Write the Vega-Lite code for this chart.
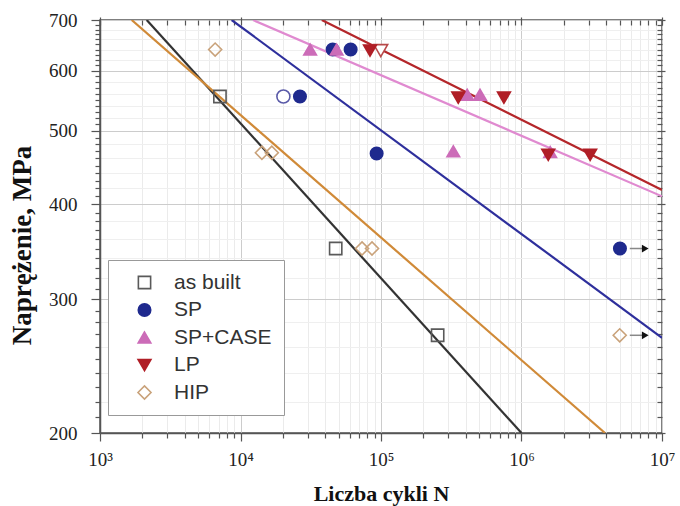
{
  "$schema": "https://vega.github.io/schema/vega-lite/v6.json",
  "width": 562,
  "height": 413,
  "autosize": "none",
  "padding": {"left": 100, "top": 20, "right": 18, "bottom": 73},
  "background": "white",
  "config": {
    "view": {"stroke": "#555555", "strokeWidth": 1.5},
    "font": "Liberation Serif"
  },
  "datasets": {
    "pts": [
      {"series": "as built", "N": 7140, "S": 555},
      {"series": "as built", "N": 47600, "S": 350},
      {"series": "as built", "N": 253000, "S": 269},
      {"series": "SP", "N": 26500, "S": 555},
      {"series": "SP", "N": 45300, "S": 640},
      {"series": "SP", "N": 60800, "S": 640},
      {"series": "SP", "N": 93100, "S": 467},
      {"series": "SP", "N": 5020000, "S": 350},
      {"series": "SP+CASE", "N": 31300, "S": 640},
      {"series": "SP+CASE", "N": 48300, "S": 640},
      {"series": "SP+CASE", "N": 327000, "S": 470},
      {"series": "SP+CASE", "N": 411000, "S": 558},
      {"series": "SP+CASE", "N": 507000, "S": 558},
      {"series": "SP+CASE", "N": 1600000, "S": 469},
      {"series": "LP", "N": 83500, "S": 638},
      {"series": "LP", "N": 355000, "S": 553},
      {"series": "LP", "N": 750000, "S": 553},
      {"series": "LP", "N": 1550000, "S": 465},
      {"series": "LP", "N": 3080000, "S": 465},
      {"series": "HIP", "N": 6600, "S": 640},
      {"series": "HIP", "N": 14200, "S": 468},
      {"series": "HIP", "N": 16700, "S": 468},
      {"series": "HIP", "N": 73300, "S": 350},
      {"series": "HIP", "N": 86300, "S": 350},
      {"series": "HIP", "N": 5000000, "S": 269}
    ],
    "openSP": [{"N": 20200, "S": 555}],
    "openLP": [{"N": 99600, "S": 638}],
    "fits": [
      {"fit": "as built", "N": 2150, "S": 700},
      {"fit": "as built", "N": 1000000, "S": 200},
      {"fit": "HIP", "N": 1681, "S": 700},
      {"fit": "HIP", "N": 3930000, "S": 200},
      {"fit": "SP", "N": 8650, "S": 700},
      {"fit": "SP", "N": 10000000, "S": 267},
      {"fit": "SP+CASE", "N": 12270, "S": 700},
      {"fit": "SP+CASE", "N": 10000000, "S": 410},
      {"fit": "LP", "N": 37900, "S": 700},
      {"fit": "LP", "N": 10000000, "S": 418}
    ],
    "arrows": [
      {"N": 5900000, "N2": 7400000, "S": 350},
      {"N": 5900000, "N2": 7400000, "S": 269}
    ],
    "heads": [
      {"N": 7600000, "S": 350},
      {"N": 7600000, "S": 269}
    ]
  },
  "layer": [
    {
      "encoding": {
        "x": {
          "field": "N", "type": "quantitative",
          "scale": {"type": "log", "domain": [1000, 10000000]},
          "axis": {
            "orient": "bottom",
            "title": "Liczba cykli N",
            "titleFont": "Liberation Serif", "titleFontSize": 22, "titleFontWeight": "bold", "titleColor": "#111111", "titlePadding": 14,
            "values": [1000, 2000, 3000, 4000, 5000, 6000, 7000, 8000, 9000, 10000, 20000, 30000, 40000, 50000, 60000, 70000, 80000, 90000, 100000, 200000, 300000, 400000, 500000, 600000, 700000, 800000, 900000, 1000000, 2000000, 3000000, 4000000, 5000000, 6000000, 7000000, 8000000, 9000000, 10000000],
            "labelExpr": "datum.value == 1000 ? '10³' : datum.value == 10000 ? '10⁴' : datum.value == 100000 ? '10⁵' : datum.value == 1000000 ? '10⁶' : datum.value == 10000000 ? '10⁷' : ''",
            "labelFont": "Liberation Serif", "labelFontSize": 19, "labelColor": "#222222", "labelPadding": 9,
            "labelOverlap": false, "labelFlush": false, "labelBound": false,
            "tickSize": {"condition": {"test": "indexof([1000,10000,100000,1000000,10000000], datum.value) >= 0", "value": 8}, "value": 5},
            "tickColor": "#555555", "tickWidth": 1.2,
            "domainColor": "#555555", "domainWidth": 1.5,
            "grid": true,
            "gridColor": {"condition": {"test": "indexof([1000,10000,100000,1000000,10000000], datum.value) >= 0", "value": "#cccccc"}, "value": "#ebebeb"},
            "gridWidth": 1
          }
        },
        "y": {
          "field": "S", "type": "quantitative",
          "scale": {"type": "log", "domain": [200, 700]},
          "axis": {
            "orient": "left",
            "title": "Naprężenie, MPa",
            "titleFont": "Liberation Serif", "titleFontSize": 27, "titleFontWeight": "bold", "titleColor": "#111111",
            "titleX": -64, "titleY": 225,
            "values": [200, 210, 220, 230, 240, 250, 260, 270, 280, 290, 300, 310, 320, 330, 340, 350, 360, 370, 380, 390, 400, 410, 420, 430, 440, 450, 460, 470, 480, 490, 500, 510, 520, 530, 540, 550, 560, 570, 580, 590, 600, 610, 620, 630, 640, 650, 660, 670, 680, 690, 700],
            "labelExpr": "datum.value % 100 == 0 ? format(datum.value, 'd') : ''",
            "labelFont": "Liberation Serif", "labelFontSize": 19, "labelColor": "#222222", "labelPadding": 14,
            "labelOverlap": false, "labelFlush": false, "labelBound": false,
            "tickSize": {"condition": {"test": "datum.value % 100 == 0", "value": 9}, "value": 5},
            "tickColor": "#555555", "tickWidth": 1.2,
            "domainColor": "#555555", "domainWidth": 1.5,
            "grid": true,
            "gridColor": {"condition": [{"test": "datum.value % 100 == 0", "value": "#cccccc"}, {"test": "datum.value % 20 == 0", "value": "#efefef"}], "value": "transparent"},
            "gridWidth": 1
          }
        }
      },
      "layer": [
        {
          "data": {"name": "fits"},
          "transform": [{"filter": "datum.fit == 'as built'"}],
          "mark": {"type": "line", "strokeWidth": 2.2, "clip": true, "stroke": "#333333"},
          "encoding": {}
        },
        {
          "data": {"name": "fits"},
          "transform": [{"filter": "datum.fit == 'HIP'"}],
          "mark": {"type": "line", "strokeWidth": 2.2, "clip": true, "stroke": "#d08a38"},
          "encoding": {}
        },
        {
          "data": {"name": "fits"},
          "transform": [{"filter": "datum.fit == 'SP'"}],
          "mark": {"type": "line", "strokeWidth": 2.2, "clip": true, "stroke": "#2e2f9c"},
          "encoding": {}
        },
        {
          "data": {"name": "fits"},
          "transform": [{"filter": "datum.fit == 'SP+CASE'"}],
          "mark": {"type": "line", "strokeWidth": 2.2, "clip": true, "stroke": "#e08ad0"},
          "encoding": {}
        },
        {
          "data": {"name": "fits"},
          "transform": [{"filter": "datum.fit == 'LP'"}],
          "mark": {"type": "line", "strokeWidth": 2.2, "clip": true, "stroke": "#b4262a"},
          "encoding": {}
        },
        {
          "data": {"name": "arrows"},
          "mark": {"type": "rule", "stroke": "#888888", "strokeWidth": 1.5},
          "encoding": {"x2": {"field": "N2"}}
        },
        {
          "data": {"name": "heads"},
          "mark": {"type": "point", "shape": "triangle-right", "filled": true, "size": 60, "color": "#111111", "opacity": 1, "strokeWidth": 0}
        },
        {
          "data": {"name": "openSP"},
          "mark": {"type": "point", "shape": "circle", "filled": false, "fill": "white", "fillOpacity": 1, "opacity": 1, "size": 170, "stroke": "#5a5aa8", "strokeWidth": 1.6}
        },
        {
          "data": {"name": "openLP"},
          "mark": {"type": "point", "shape": "triangle-down", "filled": false, "fill": "white", "fillOpacity": 1, "opacity": 1, "size": 190, "stroke": "#b84a4a", "strokeWidth": 1.6}
        },
        {
          "data": {"name": "pts"},
          "mark": {"type": "point", "filled": true, "opacity": 1, "strokeWidth": 1.6},
          "encoding": {
            "shape": {
              "field": "series", "type": "nominal",
              "scale": {"domain": ["as built", "SP", "SP+CASE", "LP", "HIP"], "range": ["square", "circle", "triangle-up", "triangle-down", "diamond"]},
              "legend": {
                "orient": "none", "legendX": 8, "legendY": 240, "title": null,
                "padding": 12, "strokeColor": "#999999", "fillColor": "white",
                "labelFont": "Liberation Sans", "labelFontSize": 21, "labelColor": "#333333",
                "symbolStrokeWidth": 1.6, "rowPadding": 5.5, "symbolOffset": 14, "labelOffset": 19
              }
            },
            "stroke": {
              "field": "series", "type": "nominal",
              "scale": {"domain": ["as built", "SP", "SP+CASE", "LP", "HIP"], "range": ["#5a5a5a", "#1f2a8e", "#cc6cb8", "#b01e26", "#c9a27a"]}
            },
            "fill": {
              "field": "series", "type": "nominal",
              "scale": {"domain": ["as built", "SP", "SP+CASE", "LP", "HIP"], "range": ["transparent", "#1f2a8e", "#cc6cb8", "#b01e26", "transparent"]}
            },
            "size": {
              "field": "series", "type": "nominal",
              "scale": {"domain": ["as built", "SP", "SP+CASE", "LP", "HIP"], "range": [150, 170, 190, 190, 220]}
            }
          }
        }
      ]
    },
    {
      "data": {"name": "fits"},
      "mark": {"type": "point", "opacity": 0},
      "encoding": {
        "x": {
          "field": "N", "type": "quantitative",
          "scale": {"type": "log", "domain": [1000, 10000000]},
          "axis": {
            "orient": "top", "title": null, "labels": false, "grid": false, "domain": false, "offset": -5,
            "values": [1000, 2000, 3000, 4000, 5000, 6000, 7000, 8000, 9000, 10000, 20000, 30000, 40000, 50000, 60000, 70000, 80000, 90000, 100000, 200000, 300000, 400000, 500000, 600000, 700000, 800000, 900000, 1000000, 2000000, 3000000, 4000000, 5000000, 6000000, 7000000, 8000000, 9000000, 10000000],
            "tickSize": {"condition": {"test": "indexof([1000,10000,100000,1000000,10000000], datum.value) >= 0", "value": 8}, "value": 5},
            "tickColor": "#555555", "tickWidth": 1.2
          }
        },
        "y": {
          "field": "S", "type": "quantitative",
          "scale": {"type": "log", "domain": [200, 700]},
          "axis": {
            "orient": "right", "title": null, "labels": false, "grid": false, "domain": false, "offset": -5,
            "values": [200, 210, 220, 230, 240, 250, 260, 270, 280, 290, 300, 310, 320, 330, 340, 350, 360, 370, 380, 390, 400, 410, 420, 430, 440, 450, 460, 470, 480, 490, 500, 510, 520, 530, 540, 550, 560, 570, 580, 590, 600, 610, 620, 630, 640, 650, 660, 670, 680, 690, 700],
            "tickSize": {"condition": {"test": "datum.value % 100 == 0", "value": 8}, "value": 5},
            "tickColor": "#555555", "tickWidth": 1.2
          }
        }
      }
    }
  ],
  "resolve": {"axis": {"x": "independent", "y": "independent"}}
}
